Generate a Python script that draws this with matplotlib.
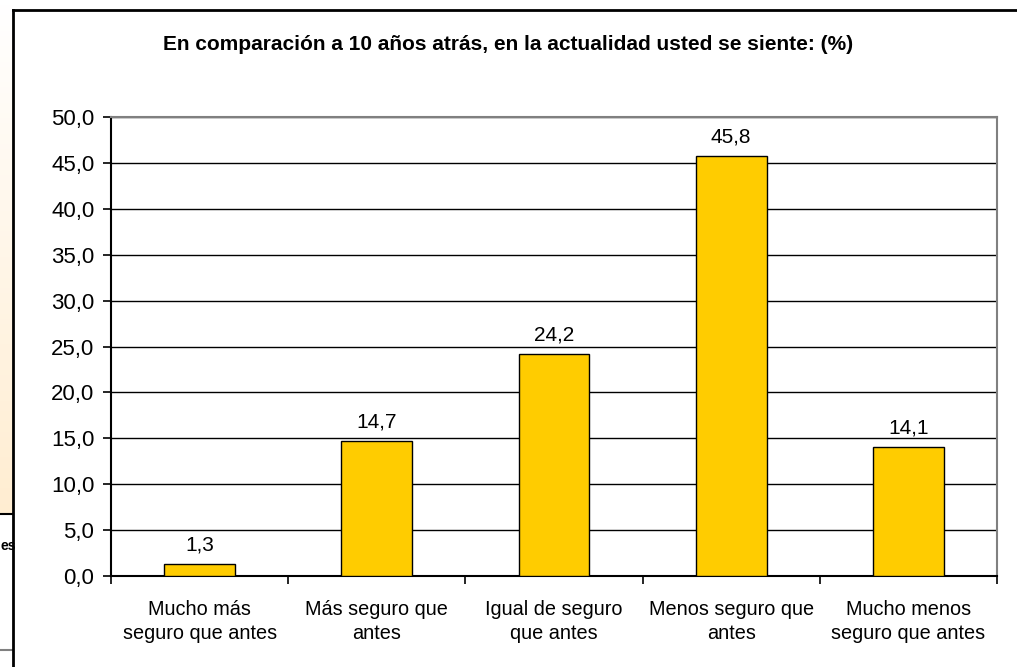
import matplotlib
matplotlib.use("Agg")
import matplotlib.pyplot as plt
import numpy as np
from matplotlib.lines import Line2D

categories = ["Mucho más\nseguro que antes", "Más seguro que\nantes", "Igual de seguro\nque antes",
              "Menos seguro que\nantes", "Mucho menos\nseguro que antes"]
values = [1.3, 14.7, 24.2, 45.8, 14.1]
labels = ["1,3", "14,7", "24,2", "45,8", "14,1"]
yticks = np.arange(0, 50.1, 5)

plt.rcParams['font.family'] = ['Liberation Sans', 'DejaVu Sans']

fig = plt.figure(figsize=(10.17, 6.67), dpi=100)
W, H = 1017, 667

# left strip from a neighbouring chart (cream gradient)
bg = fig.add_axes([0, 1 - 514 / H, 13 / W, 514 / H])
g = np.linspace(0, 1, 100)
cream = np.ones((100, 1, 3))
cream[:, 0, 1] = 1.0 - 0.07 * g
cream[:, 0, 2] = 1.0 - 0.18 * g
bg.imshow(cream, aspect='auto', extent=[0, 1, 0, 1], origin='upper')
bg.axis('off')
fig.add_artist(Line2D([0, 13 / W], [1 - 514 / H] * 2, color='black', lw=1.5, transform=fig.transFigure))
fig.add_artist(Line2D([0, 13 / W], [1 - 650 / H] * 2, color='#808080', lw=1.5, transform=fig.transFigure))
fig.text(0.5 / W, 1 - 546 / H, "es", ha='left', va='center', fontsize=10, fontweight='bold')

# chart frame
fig.add_artist(Line2D([13 / W, 13 / W], [0, 1 - 10 / H], color='black', lw=2, transform=fig.transFigure))
fig.add_artist(Line2D([13 / W, 1], [1 - 10 / H] * 2, color='black', lw=2, transform=fig.transFigure))

ax = fig.add_axes([111 / W, 1 - 576 / H, 886 / W, 459 / H])
x = np.arange(len(categories))
ax.bar(x, values, width=0.4, color='#FFCC00', edgecolor='black', linewidth=1, zorder=3)
for xi, v, lab in zip(x, values, labels):
    ax.text(xi, v + 1.0, lab, ha='center', va='bottom', fontsize=15)

ax.set_xlim(-0.5, len(categories) - 0.5)
ax.set_ylim(0, 50)
ax.set_yticks(yticks)
ax.set_yticklabels([f"{t:.1f}".replace('.', ',') for t in yticks], fontsize=16)
ax.yaxis.grid(True, color='black', lw=1)
ax.set_axisbelow(True)
ax.tick_params(axis='y', direction='out', length=6, width=1.2, pad=6)

ax.set_xticks(np.arange(-0.5, len(categories), 1.0))
ax.set_xticklabels([])
ax.tick_params(axis='x', direction='out', length=6, width=1.2)
ax.set_xticks(x, minor=True)
ax.set_xticklabels(categories, minor=True, fontsize=14.3, linespacing=1.35)
ax.tick_params(axis='x', which='minor', length=0, pad=17)

ax.spines['left'].set_linewidth(1.5)
ax.spines['bottom'].set_linewidth(1.5)
ax.spines['top'].set_color('#808080')
ax.spines['right'].set_color('#808080')
ax.spines['top'].set_linewidth(1.5)
ax.spines['right'].set_linewidth(1.5)

fig.text(508 / W, 1 - 45 / H, "En comparación a 10 años atrás, en la actualidad usted se siente: (%)",
         ha='center', va='center', fontsize=15, fontweight='bold')

fig.savefig("out.png", dpi=100)
